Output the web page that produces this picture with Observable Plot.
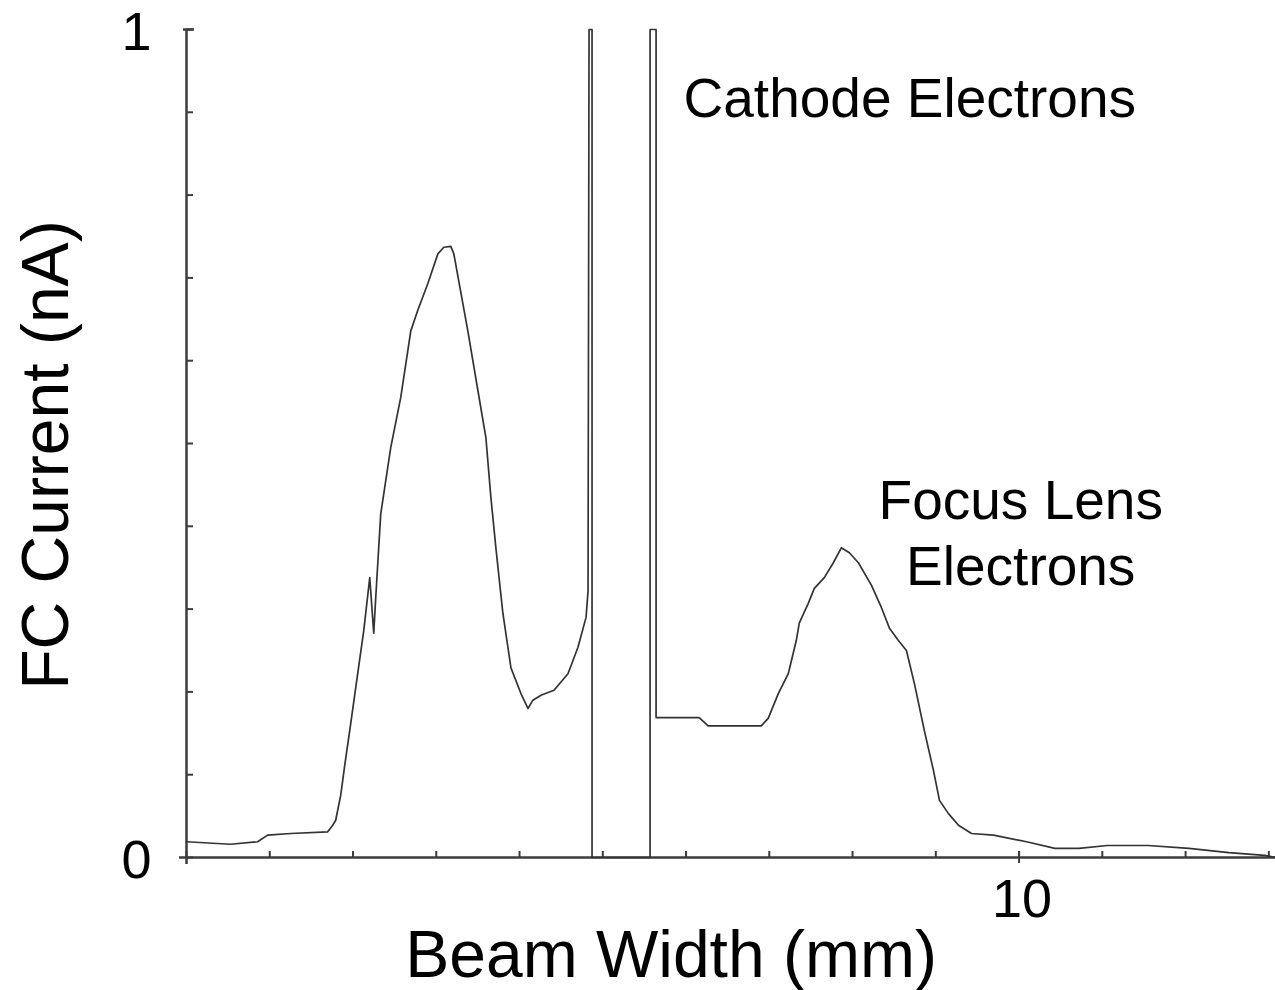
<!DOCTYPE html>
<html>
<head>
<meta charset="utf-8">
<script src="https://cdn.jsdelivr.net/npm/d3@7"></script>
<script src="https://cdn.jsdelivr.net/npm/@observablehq/plot@0.6"></script>
<style>
  html, body { margin: 0; padding: 0; background: #ffffff; }
  #chart svg { display: block; }
</style>
</head>
<body>
<div id="chart"></div>
<script>
// Faraday-cup scan of the beam profile: position across the beam (mm) and collected current (nA).
// The two off-scale spikes near 5 mm are the cathode electrons (clipped at the top of the scale).
const beamWidth = [
  0.000, 0.529, 0.854, 0.974, 1.251, 1.696, 1.756, 1.792, 1.852, 1.900,
  1.960, 2.045, 2.129, 2.201, 2.249, 2.273, 2.333, 2.453, 2.574, 2.694,
  2.778, 2.898, 3.019, 3.091, 3.175, 3.211, 3.379, 3.500, 3.596, 3.656,
  3.716, 3.800, 3.897, 4.017, 4.101, 4.161, 4.257, 4.414, 4.582, 4.702,
  4.799, 4.823, 4.835, 4.871, 4.871, 5.568, 5.568, 5.640, 5.640, 6.157,
  6.266, 6.903, 6.987, 7.108, 7.228, 7.324, 7.360, 7.468, 7.541, 7.661,
  7.769, 7.865, 7.962, 8.070, 8.226, 8.346, 8.443, 8.551, 8.647, 8.743,
  8.863, 8.972, 9.044, 9.152, 9.272, 9.429, 9.693, 10.09, 10.43, 10.72,
  11.06, 11.55, 12.04, 12.52, 12.95, 13.08
];
const fcCurrent = [
  0.019, 0.016, 0.019, 0.027, 0.029, 0.031, 0.039, 0.045, 0.075, 0.111,
  0.153, 0.214, 0.274, 0.338, 0.271, 0.314, 0.415, 0.495, 0.556, 0.636,
  0.661, 0.693, 0.729, 0.737, 0.738, 0.729, 0.636, 0.564, 0.507, 0.435,
  0.374, 0.295, 0.229, 0.198, 0.180, 0.190, 0.196, 0.202, 0.222, 0.254,
  0.290, 0.322, 1.000, 1.000, 0.000, 0.000, 1.000, 1.000, 0.169, 0.169,
  0.159, 0.159, 0.168, 0.198, 0.222, 0.262, 0.283, 0.307, 0.325, 0.338,
  0.356, 0.374, 0.368, 0.356, 0.329, 0.302, 0.277, 0.262, 0.250, 0.210,
  0.153, 0.105, 0.069, 0.053, 0.039, 0.029, 0.027, 0.019, 0.011, 0.011,
  0.0145, 0.0145, 0.011, 0.006, 0.0025, 0.000
];

// Axis ticks (1 mm and 0.1 nA steps) and the few labelled ones
const xTicks = [0, 1, 2, 3, 4, 5, 6, 7, 8, 9, 10, 11, 12, 13];
const yTicks = [0, 0.1, 0.2, 0.3, 0.4, 0.5, 0.6, 0.7, 0.8, 0.9, 1];
const xTickLabels = [{value: 10, label: "10"}];
const yTickLabels = [{value: 0, label: "0"}, {value: 1, label: "1"}];

const xTitle = "Beam Width (mm)";
const yTitle = "FC Current (nA)";

// Peak annotations
const cathodeNote = [{x: 5.97, y: 0.915, text: "Cathode Electrons"}];
const focusNote = [{x: 10.02, y: 0.395, text: "Focus Lens\nElectrons"}];

const profile = beamWidth.map((x, i) => ({x, y: fcCurrent[i]}));

const W = 1275, H = 990;
const mLeft = 186, mTop = 29, mBottom = 133, mRight = 0;
const frameW = W - mLeft - mRight;
const frameH = H - mTop - mBottom;

const ink = "#3c3c3c";
const font = "'Liberation Sans', Arial, Helvetica, sans-serif";

const chart = Plot.plot({
  width: W,
  height: H,
  marginLeft: mLeft,
  marginRight: mRight,
  marginTop: mTop,
  marginBottom: mBottom,
  style: {background: "#ffffff", fontFamily: font, color: "#000"},
  x: {domain: [0, 13.08], axis: null},
  y: {domain: [0, 1], axis: null},
  marks: [
    // axis lines with a small cross at the origin
    Plot.ruleY([0], {stroke: ink, strokeWidth: 2.5, insetLeft: -7}),
    Plot.ruleX([0], {stroke: ink, strokeWidth: 2.5, insetBottom: -7}),
    // inward tick marks
    Plot.tickX(xTicks, {x: d => d, stroke: ink, strokeWidth: 2, insetTop: frameH - 6}),
    Plot.tickX([10], {x: d => d, stroke: ink, strokeWidth: 2, insetTop: frameH - 6, insetBottom: -6}),
    Plot.tickY(yTicks, {y: d => d, stroke: ink, strokeWidth: 2, insetRight: frameW - 7}),
    Plot.tickY([1], {y: d => d, stroke: ink, strokeWidth: 2.5, insetLeft: -3, insetRight: frameW - 8}),
    // measured profile
    Plot.line(profile, {x: "x", y: "y", stroke: "#333", strokeWidth: 1.7, strokeLinejoin: "round"}),
    // tick labels
    Plot.text(yTickLabels, {x: 0, y: "value", text: "label", dx: -35, dy: 3, textAnchor: "end",
      fontSize: 54, fill: "#000"}),
    Plot.text(xTickLabels, {x: "value", y: 0, text: "label", dx: 3, dy: 42,
      fontSize: 54, fill: "#000"}),
    // axis titles
    Plot.text([xTitle], {x: 5.82, y: 0, text: d => d, dy: 98, fontSize: 66, fill: "#000"}),
    Plot.text([yTitle], {x: 0, y: 0.486, text: d => d, dx: -140, rotate: -90, fontSize: 66, fill: "#000"}),
    // annotations
    Plot.text(cathodeNote, {x: "x", y: "y", text: "text", textAnchor: "start",
      fontSize: 55, fill: "#000"}),
    Plot.text(focusNote, {x: "x", y: "y", text: "text", textAnchor: "middle",
      fontSize: 55, lineHeight: 1.2, fill: "#000"})
  ]
});

document.getElementById("chart").appendChild(chart);
</script>
</body>
</html>
